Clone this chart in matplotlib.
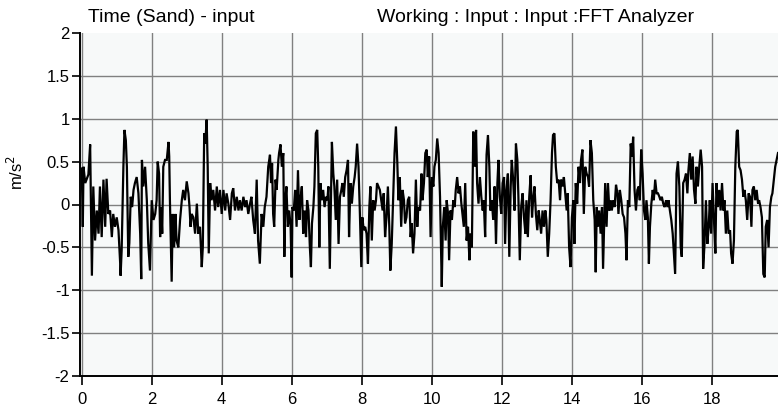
"""Time signal (sand) - input, FFT analyzer export look-alike."""
import matplotlib
matplotlib.use("Agg")
import matplotlib.pyplot as plt
import numpy as np

plt.rcParams["font.family"] = ["Liberation Sans", "DejaVu Sans"]
plt.rcParams["axes.unicode_minus"] = False

# ── data: time [s] / acceleration [m/s^2] ──────────────────────────────────
T1 = [0.00, 0.03, 0.05, 0.10, 0.19, 0.24, 0.29, 0.33, 0.38, 0.43, 0.48, 0.52,
      0.57, 0.62, 0.67, 0.71, 0.76, 0.81, 0.86, 0.90, 0.95, 1.00, 1.05, 1.10,
      1.11, 1.14, 1.19, 1.22, 1.26, 1.29, 1.33, 1.36, 1.40, 1.44, 1.48, 1.52,
      1.57, 1.62, 1.67, 1.70, 1.72, 1.76, 1.81, 1.86, 1.90, 1.95, 2.00, 2.05,
      2.10, 2.14, 2.17, 2.21, 2.24, 2.27, 2.30, 2.33, 2.38, 2.43, 2.48, 2.50,
      2.52, 2.57, 2.60, 2.64, 2.68, 2.71, 2.76, 2.81, 2.86, 2.90, 2.95, 3.00,
      3.05, 3.08, 3.11, 3.14, 3.19, 3.24, 3.29, 3.33, 3.38, 3.43, 3.46, 3.50,
      3.53, 3.57, 3.60, 3.63, 3.67, 3.71, 3.76, 3.81, 3.86, 3.90, 3.95, 4.00,
      4.05, 4.10, 4.14, 4.19, 4.24, 4.29, 4.33, 4.38, 4.43, 4.48, 4.52, 4.57,
      4.62, 4.67, 4.71, 4.76, 4.81]
A1 = [0.42, -0.26, 0.44, 0.25, 0.35, 0.70, -0.83, 0.21, -0.42, -0.07, -0.34, 0.21,
      -0.38, 0.29, -0.26, 0.30, -0.11, -0.07, -0.38, -0.11, -0.26, -0.15, -0.30, -0.70,
      -0.83, -0.54, 0.44, 0.87, 0.75, 0.44, -0.61, -0.45, 0.09, -0.03, 0.17, 0.25,
      0.32, 0.13, -0.34, -0.87, 0.52, 0.21, 0.44, 0.05, -0.45, -0.77, 0.05, -0.18,
      -0.11, 0.05, 0.50, 0.36, -0.38, -0.03, -0.34, 0.44, 0.52, 0.52, 0.73, 0.56,
      0.05, -0.90, -0.11, -0.50, -0.11, -0.42, -0.50, -0.18, 0.05, 0.17, 0.05, 0.27,
      0.13, -0.03, -0.26, -0.11, -0.15, -0.34, 0.01, -0.34, -0.26, -0.73, -0.50, 0.83,
      0.71, 0.99, 0.44, -0.57, 0.25, 0.05, 0.17, -0.07, 0.21, -0.03, 0.17, -0.11,
      0.17, -0.07, 0.13, 0.01, -0.18, 0.13, 0.19, -0.07, 0.09, -0.07, 0.05, -0.07,
      0.09, -0.03, 0.05, -0.11, 0.01]

T2 = [4.85, 4.90, 4.95, 5.00, 5.04, 5.09, 5.14, 5.19, 5.23, 5.28, 5.33, 5.38,
      5.41, 5.44, 5.47, 5.50, 5.54, 5.57, 5.62, 5.64, 5.68, 5.72, 5.76, 5.79,
      5.82, 5.85, 5.89, 5.93, 5.97, 6.00, 6.02, 6.06, 6.10, 6.14, 6.18, 6.22,
      6.25, 6.29, 6.33, 6.37, 6.41, 6.44, 6.48, 6.52, 6.55, 6.58, 6.62, 6.65,
      6.69, 6.73, 6.76, 6.79, 6.82, 6.86, 6.90, 6.94, 6.98, 7.02, 7.05, 7.09,
      7.12, 7.15, 7.19, 7.22, 7.26, 7.30, 7.34, 7.38, 7.42, 7.45, 7.49, 7.53,
      7.57, 7.61, 7.64, 7.68, 7.72, 7.76, 7.80, 7.83, 7.87, 7.91, 7.95, 7.99,
      8.02, 8.06, 8.10, 8.14, 8.18, 8.22, 8.25, 8.29, 8.33, 8.37, 8.41, 8.44,
      8.48, 8.52, 8.56, 8.60, 8.63, 8.67, 8.71, 8.75, 8.79, 8.82, 8.86, 8.90,
      8.94, 8.98, 9.02, 9.05, 9.09, 9.13, 9.17, 9.21, 9.24, 9.28, 9.32, 9.36,
      9.40, 9.43, 9.47, 9.51, 9.55, 9.59, 9.62]
A2 = [0.09, -0.18, -0.34, 0.29, -0.42, -0.69, -0.11, -0.26, -0.03, 0.09, 0.44, 0.58,
      0.25, 0.48, -0.11, -0.26, 0.29, 0.17, 0.52, 0.60, 0.70, 0.44, 0.60, -0.61,
      0.05, 0.21, -0.26, -0.07, -0.26, -0.85, -0.03, -0.07, 0.17, -0.26, 0.40, -0.18,
      0.05, 0.21, -0.34, -0.07, -0.38, 0.05, -0.07, -0.50, -0.73, -0.22, -0.03, 0.21,
      0.83, 0.87, 0.44, -0.50, 0.25, 0.05, 0.17, -0.03, 0.09, 0.05, 0.21, -0.75,
      -0.03, 0.73, 0.36, 0.21, -0.18, 0.29, -0.46, 0.09, 0.17, 0.25, 0.09, 0.32,
      0.40, 0.52, -0.38, 0.25, 0.01, 0.21, 0.32, 0.44, 0.71, 0.44, -0.11, -0.73,
      -0.15, -0.30, -0.26, -0.34, -0.69, -0.03, 0.21, -0.42, 0.05, -0.07, 0.05, 0.25,
      0.21, 0.17, 0.05, -0.07, 0.13, -0.38, -0.15, 0.21, -0.26, -0.77, -0.46, 0.05,
      0.60, 0.91, 0.48, 0.05, 0.32, -0.26, 0.17, 0.05, -0.22, -0.15, 0.05, 0.09,
      -0.38, -0.22, -0.57, -0.34, 0.29, -0.26, -0.03]

T3 = [9.67, 9.71, 9.74, 9.78, 9.82, 9.86, 9.89, 9.93, 9.97, 10.01, 10.05, 10.08,
      10.12, 10.16, 10.20, 10.24, 10.27, 10.29, 10.32, 10.36, 10.40, 10.43, 10.47,
      10.50, 10.54, 10.58, 10.62, 10.66, 10.69, 10.73, 10.77, 10.81, 10.85, 10.88,
      10.92, 10.96, 11.00, 11.04, 11.08, 11.11, 11.15, 11.19, 11.23, 11.27, 11.30,
      11.34, 11.38, 11.42, 11.46, 11.49, 11.53, 11.57, 11.61, 11.65, 11.68, 11.72,
      11.76, 11.80, 11.84, 11.88, 11.91, 11.95, 11.99, 12.03, 12.07, 12.10, 12.14,
      12.18, 12.22, 12.26, 12.29, 12.33, 12.37, 12.41, 12.45, 12.48, 12.52, 12.56,
      12.60, 12.64, 12.68, 12.71, 12.75, 12.79, 12.83, 12.87, 12.90, 12.94, 12.98,
      13.02, 13.06, 13.09, 13.13, 13.17, 13.21, 13.25, 13.28, 13.32, 13.36, 13.40,
      13.44, 13.47, 13.51, 13.55, 13.59, 13.63, 13.67, 13.70, 13.74, 13.78, 13.82,
      13.86, 13.89, 13.93, 13.97, 14.01, 14.05, 14.08, 14.12, 14.16, 14.20, 14.24,
      14.27, 14.31, 14.35, 14.39, 14.43, 14.47, 14.50]
A3 = [-0.07, 0.36, 0.05, 0.25, 0.60, 0.64, 0.32, 0.56, -0.38, 0.32, 0.21, 0.44,
      0.52, 0.77, 0.60, 0.09, -0.57, -0.96, -0.26, -0.03, -0.42, 0.05, -0.11,
      -0.65, -0.07, -0.18, 0.05, -0.03, 0.17, 0.32, 0.13, 0.21, 0.01, -0.11,
      -0.26, 0.25, -0.42, -0.26, -0.65, -0.34, -0.50, 0.85, 0.44, 0.87, 0.25,
      0.01, 0.32, 0.09, -0.07, 0.05, -0.38, 0.58, 0.81, 0.44, -0.07, 0.05,
      -0.18, 0.21, -0.46, 0.25, 0.52, 0.09, -0.11, 0.25, 0.32, -0.46, 0.17,
      0.36, -0.61, 0.21, 0.52, 0.29, -0.07, 0.71, 0.52, 0.09, -0.65, -0.03,
      0.13, -0.15, -0.34, 0.05, -0.38, 0.09, 0.34, -0.15, 0.05, 0.21, -0.11,
      -0.30, -0.07, -0.18, -0.34, -0.07, -0.26, -0.07, -0.18, -0.61, -0.34, 0.05,
      0.60, 0.81, 0.83, 0.44, 0.25, 0.29, 0.05, 0.29, 0.21, 0.32, 0.13,
      -0.07, 0.13, -0.50, -0.73, -0.15, 0.05, -0.46, 0.25, 0.01, 0.44, 0.25,
      0.52, 0.64, -0.11, 0.44, 0.36, 0.32, 0.21]

T4 = [14.54, 14.58, 14.62, 14.66, 14.69, 14.72, 14.75, 14.79, 14.83, 14.87, 14.90,
      14.93, 14.96, 15.00, 15.04, 15.08, 15.12, 15.15, 15.19, 15.23, 15.27, 15.31,
      15.34, 15.38, 15.42, 15.46, 15.50, 15.54, 15.57, 15.61, 15.65, 15.69, 15.73,
      15.76, 15.80, 15.84, 15.88, 15.92, 15.95, 15.99, 16.03, 16.07, 16.11, 16.14,
      16.18, 16.21, 16.24, 16.28, 16.32, 16.35, 16.39, 16.43, 16.47, 16.51, 16.54,
      16.58, 16.62, 16.66, 16.70, 16.74, 16.77, 16.81, 16.85, 16.89, 16.93, 16.96,
      17.00, 17.04, 17.08, 17.12, 17.15, 17.19, 17.23, 17.27, 17.31, 17.34, 17.38,
      17.42, 17.46, 17.50, 17.54, 17.57, 17.61, 17.65, 17.69, 17.73, 17.76, 17.80,
      17.84, 17.88, 17.92, 17.95, 17.99, 18.03, 18.07, 18.11, 18.14, 18.18, 18.22,
      18.26, 18.30, 18.34, 18.37, 18.41, 18.45, 18.49, 18.53, 18.56, 18.60, 18.64,
      18.68, 18.72, 18.75, 18.79, 18.83, 18.87, 18.91, 18.94, 18.98, 19.02, 19.06,
      19.10, 19.14, 19.17, 19.21, 19.25, 19.29, 19.33, 19.36, 19.40, 19.44, 19.48,
      19.52, 19.55, 19.59, 19.63, 19.67, 19.71, 19.74, 19.78, 19.82, 19.86, 19.90]
A4 = [0.75, 0.60, 0.05, -0.18, -0.79, -0.03, -0.26, -0.07, -0.34, -0.03, -0.75,
      -0.26, 0.25, -0.26, 0.25, -0.07, 0.05, -0.07, 0.05, -0.03, 0.23, 0.13,
      -0.11, 0.17, 0.05, -0.11, -0.15, -0.34, -0.65, 0.05, -0.03, 0.71, 0.56,
      0.79, 0.17, -0.07, 0.17, 0.21, 0.05, 0.64, 0.36, -0.07, -0.18, 0.05,
      -0.15, -0.69, -0.26, 0.01, 0.17, 0.05, 0.29, 0.13, 0.13, 0.09, 0.05,
      0.09, 0.01, -0.03, 0.05, -0.03, 0.05, -0.07, -0.18, -0.34, -0.61, -0.81,
      0.36, 0.50, 0.21, -0.50, -0.61, 0.25, 0.29, 0.36, 0.13, 0.40, 0.60,
      0.29, 0.56, 0.17, 0.01, 0.44, 0.21, 0.44, 0.64, 0.44, -0.75, -0.46,
      0.05, -0.46, -0.26, 0.05, -0.34, 0.25, -0.18, -0.57, 0.25, -0.03, 0.17,
      -0.07, 0.25, -0.07, 0.05, -0.34, -0.07, -0.34, -0.30, -0.57, -0.69, -0.42,
      0.44, 0.85, 0.87, 0.44, 0.40, 0.29, 0.09, 0.17, 0.05, -0.18, 0.13,
      0.09, -0.26, 0.17, 0.21, 0.05, 0.17, 0.01, 0.05, -0.03, -0.15, -0.81,
      -0.85, -0.26, -0.18, -0.50, -0.03, 0.09, 0.13, 0.29, 0.44, 0.52, 0.60]

XTICKS = [0, 2, 4, 6, 8, 10, 12, 14, 16, 18]
YTICKS = [-2, -1.5, -1, -0.5, 0, 0.5, 1, 1.5, 2]

t = np.array(T1 + T2 + T3 + T4)
acc = np.array(A1 + A2 + A3 + A4)

# ── figure: 778x409 px, plot box from pixel measurements ────────────────────
W, H = 778, 409
fig = plt.figure(figsize=(W / 100, H / 100), dpi=100, facecolor="white")
ax = fig.add_axes([80 / W, 1 - 376 / H, (W - 80) / W, (376 - 33) / H])
ax.set_facecolor("#f7f9f9")

ax.plot(t, acc, color="black", lw=1.6, solid_joinstyle="miter")

ax.set_xlim(-0.05, 19.9)
ax.set_ylim(-2, 2)
ax.set_xticks(XTICKS)
ax.set_yticks(YTICKS)
ax.set_yticklabels([f"{v:g}" for v in YTICKS])

ax.grid(True, color="#808080", lw=1.0)
ax.yaxis.get_gridlines()[-1].set_visible(False)   # no line along the top edge

for side in ("top", "right"):
    ax.spines[side].set_visible(False)
for side in ("left", "bottom"):
    ax.spines[side].set_linewidth(1.4)
    ax.spines[side].set_color("black")

ax.tick_params(direction="out", width=1.2, colors="black", labelsize=12)
ax.tick_params(axis="x", length=6.5, pad=5)
ax.tick_params(axis="y", length=5.5, pad=2)

# titles & unit label (figure coords, matching the analyzer screenshot)
fig.text(88 / W, 1 - 17 / H, "Time (Sand) - input", fontsize=14,
         ha="left", va="center")
fig.text(377 / W, 1 - 17 / H, "Working : Input : Input :FFT Analyzer",
         fontsize=14, ha="left", va="center")
fig.text(16 / W, 1 - 172 / H, "m/s$^2$", fontsize=12, rotation=90,
         ha="center", va="center")

fig.savefig("out.png", dpi=100, facecolor="white")
